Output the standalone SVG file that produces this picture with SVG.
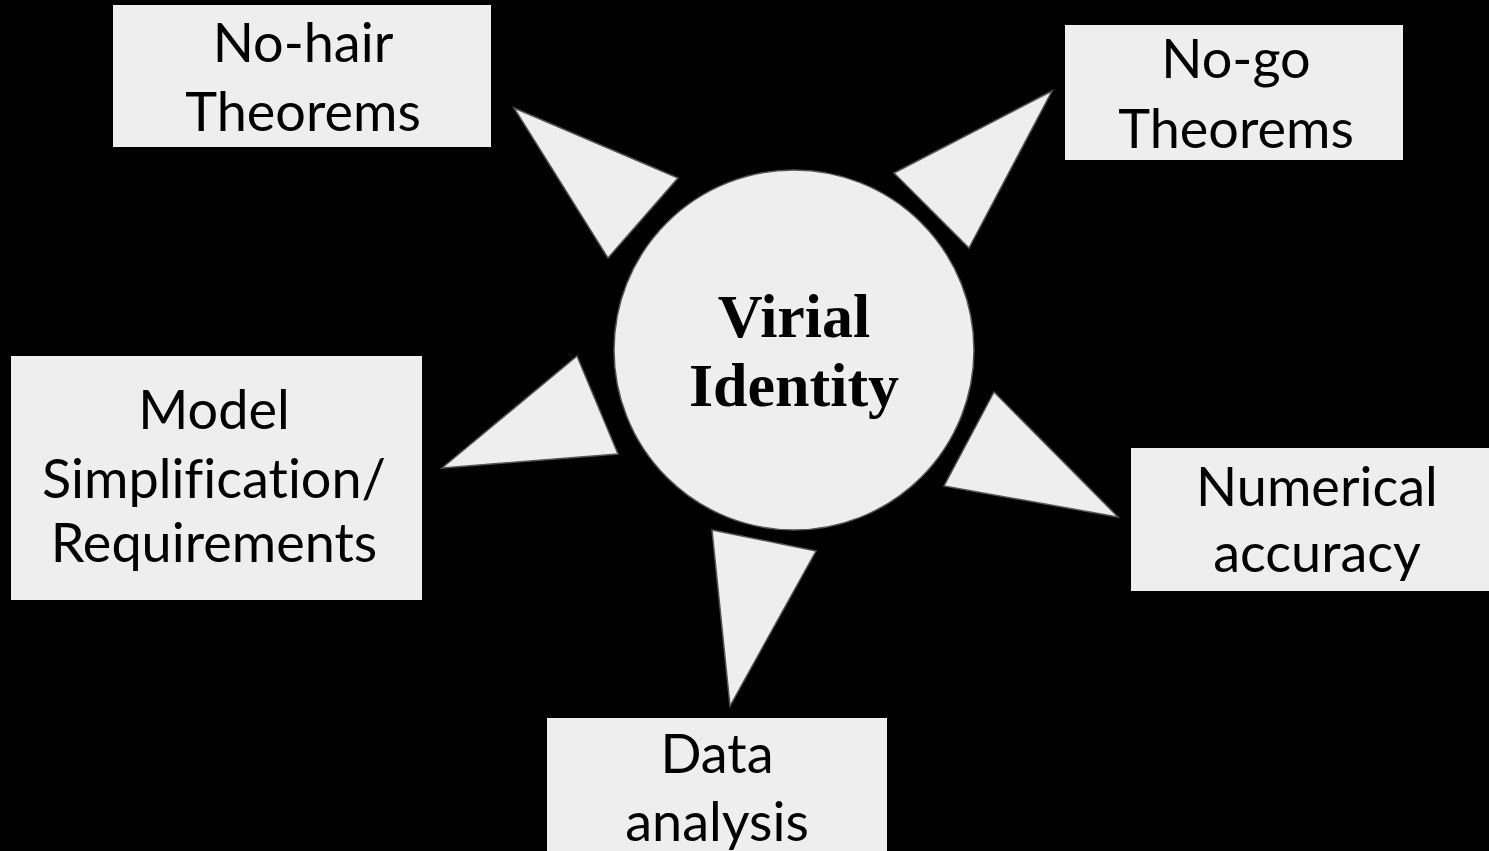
<svg xmlns="http://www.w3.org/2000/svg" width="1489" height="851" viewBox="0 0 1489 851">
  <style>
    .box { fill: #eeeeee; }
    .shape { fill: #eeeeee; stroke: #555555; stroke-width: 1.5; stroke-linejoin: miter; }
    .label { font-family: Lato, "Noto Sans", "Liberation Sans", sans-serif; font-size: 54px; fill: #000000; text-anchor: middle; font-variant-ligatures: none; }
    .title { font-family: "Liberation Serif", "DejaVu Serif", serif; font-weight: bold; font-size: 62px; fill: #000000; text-anchor: middle; }
  </style>
  <rect x="0" y="0" width="1489" height="851" fill="#000000"/>

  <!-- pointers from the hub towards each topic -->
  <g id="connectors">
    <polygon class="shape" points="514,108 678,178 608,258"/>
    <polygon class="shape" points="1052,91 894,173 969,248"/>
    <polygon class="shape" points="577,356 618,454 442,468"/>
    <polygon class="shape" points="994,392 944,486 1118,517"/>
    <polygon class="shape" points="712,530 816,551 730,706"/>
  </g>

  <g id="hub">
    <circle class="shape" cx="794" cy="350" r="180"/>
    <text class="title" x="794" y="337">Virial</text>
    <text class="title" x="794" y="406">Identity</text>
  </g>

  <g id="no-hair">
    <rect class="box" x="113" y="5" width="378" height="142"/>
    <text class="label" x="303" y="62">No-hair</text>
    <text class="label" x="303" y="131">Theorems</text>
  </g>

  <g id="no-go">
    <rect class="box" x="1065" y="25" width="338" height="135"/>
    <text class="label" x="1236" y="78">No-go</text>
    <text class="label" x="1236" y="148">Theorems</text>
  </g>

  <g id="model">
    <rect class="box" x="11" y="356" width="411" height="244"/>
    <text class="label" x="214" y="429">Model</text>
    <text class="label" x="214" y="498">Simplification/</text>
    <text class="label" x="214" y="562">Requirements</text>
  </g>

  <g id="numerical">
    <rect class="box" x="1131" y="448" width="358" height="143"/>
    <text class="label" x="1317" y="506">Numerical</text>
    <text class="label" x="1317" y="572">accuracy</text>
  </g>

  <g id="data">
    <rect class="box" x="547" y="718" width="340" height="133"/>
    <text class="label" x="717" y="773">Data</text>
    <text class="label" x="717" y="841">analysis</text>
  </g>
</svg>
